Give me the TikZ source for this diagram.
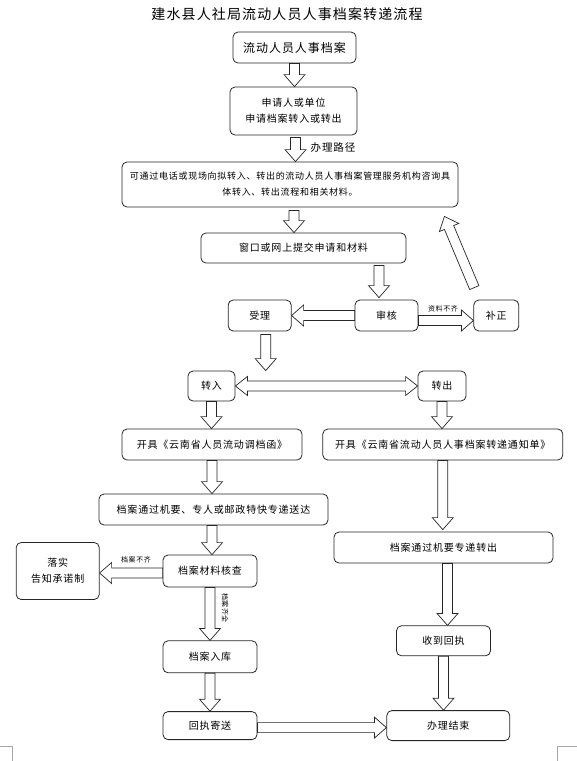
\documentclass[tikz,border=0pt]{standalone}
\usepackage{fontspec}
\newfontfamily\cjk[LetterSpace=8]{Noto Sans CJK SC}
\usetikzlibrary{calc,positioning}
\tikzset{
    pasobox/.style={
        rectangle,                % caja básica
        rounded corners=5pt,      % esquinas redondeadas suaves
        draw=black!85,            % borde casi negro
        fill=white,
        line width=0.8pt,
        align=center,             % texto centrado
        inner sep=2pt,
        font=\cjk\fontsize{10}{16}\selectfont
    },
    rotulo/.style={
        inner sep=1pt,
        font=\cjk\fontsize{7}{8}\selectfont   % etiquetas pequeñas sobre las flechas
    },
    flecha/.style={
        draw=black!85,
        fill=white,               % flecha hueca
        line width=0.7pt,
        to path={let \p1=(\tikztostart), \p2=(\tikztotarget),
            \n1={atan2(\y2-\y1,\x2-\x1)}, \n2={veclen(\x2-\x1,\y2-\y1)} in
            ($(\p1)+(\n1+90:5pt)$)
            -- ($(\p1)+(\n1:\n2-12pt)+(\n1+90:5pt)$)
            -- ($(\p1)+(\n1:\n2-12pt)+(\n1+90:10.5pt)$)
            -- (\p2)
            -- ($(\p1)+(\n1:\n2-12pt)+(\n1-90:10.5pt)$)
            -- ($(\p1)+(\n1:\n2-12pt)+(\n1-90:5pt)$)
            -- ($(\p1)+(\n1-90:5pt)$) -- cycle}
    },
    doble/.style={
        draw=black!85,
        fill=white,               % flecha hueca de dos puntas
        line width=0.7pt,
        to path={let \p1=(\tikztostart), \p2=(\tikztotarget),
            \n1={atan2(\y2-\y1,\x2-\x1)}, \n2={veclen(\x2-\x1,\y2-\y1)} in
            (\p1)
            -- ($(\p1)+(\n1:12pt)+(\n1+90:9.5pt)$)
            -- ($(\p1)+(\n1:12pt)+(\n1+90:5pt)$)
            -- ($(\p1)+(\n1:\n2-12pt)+(\n1+90:5pt)$)
            -- ($(\p1)+(\n1:\n2-12pt)+(\n1+90:9.5pt)$)
            -- (\p2)
            -- ($(\p1)+(\n1:\n2-12pt)+(\n1-90:9.5pt)$)
            -- ($(\p1)+(\n1:\n2-12pt)+(\n1-90:5pt)$)
            -- ($(\p1)+(\n1:12pt)+(\n1-90:5pt)$)
            -- ($(\p1)+(\n1:12pt)+(\n1-90:9.5pt)$) -- cycle}
    },
    marca/.style={draw=black!35, line width=0.5pt}
}

\begin{document}
\begin{tikzpicture}[x=1pt, y=-1pt]
            \useasboundingbox (0,0) rectangle (577,761);

            \node[font=\cjk\fontsize{14}{16}\selectfont] (titulo) at (287,14) {建水县人社局流动人员人事档案转递流程};

            \node[pasobox, minimum width=123pt, minimum height=31pt, font=\cjk\fontsize{12}{14}\selectfont] (dossier) at (294.5,47.5) {流动人员人事档案};
            \node[pasobox, minimum width=127pt, minimum height=48pt] (solicitud) at (293.5,111) {申请人或单位\\申请档案转入或转出};
            \node[pasobox, minimum width=336pt, minimum height=45pt, font=\cjk\fontsize{9}{16}\selectfont] (consulta) at (290,184.5) {可通过电话或现场向拟转入、转出的流动人员人事档案管理服务机构咨询具\\体转入、转出流程和相关材料。};
            \node[pasobox, minimum width=205pt, minimum height=30pt] (entrega) at (303.5,248) {窗口或网上提交申请和材料};
            \node[pasobox, minimum width=63pt, minimum height=31pt] (revision) at (386.5,315.5) {审核};
            \node[pasobox, minimum width=63pt, minimum height=31pt, left=63pt of revision] (tramite) {受理};
            \node[pasobox, minimum width=45pt, minimum height=31pt, right=55pt of revision] (correccion) {补正};
            \node[pasobox, minimum width=47pt, minimum height=30pt] (entrada) at (211.5,386) {转入};
            \node[pasobox, minimum width=48pt, minimum height=30pt] (salida) at (442,386) {转出};
            \node[pasobox, minimum width=180pt, minimum height=31pt] (carta) at (212,444.5) {开具《云南省人员流动调档函》};
            \node[pasobox, minimum width=240pt, minimum height=31pt, right=20pt of carta] (aviso) {开具《云南省流动人员人事档案转递通知单》};
            \node[pasobox, minimum width=229pt, minimum height=31pt] (envio) at (213.5,509.5) {档案通过机要、专人或邮政特快专递送达};
            \node[pasobox, minimum width=219pt, minimum height=31pt] (remision) at (443.5,547.5) {档案通过机要专递转出};
            \node[pasobox, minimum width=94pt, minimum height=32pt] (verifica) at (210,571) {档案材料核查};
            \node[pasobox, minimum width=83pt, minimum height=57pt, left=63pt of verifica] (promesa) {落实\\告知承诺制};
            \node[pasobox, minimum width=94pt, minimum height=32pt, below=53pt of verifica] (archivar) {档案入库};
            \node[pasobox, minimum width=94pt, minimum height=30pt, below=62pt of remision] (recibo) {收到回执};
            \node[pasobox, minimum width=94pt, minimum height=28pt, below=38pt of archivar] (acuse) {回执寄送};
            \node[pasobox, minimum width=123pt, minimum height=30pt, right=129pt of acuse] (fin) {办理结束};

            \draw[flecha] (dossier.south) to (dossier.south |- solicitud.north);
            \draw[flecha] ([xshift=2pt,yshift=-2pt]solicitud.south) to ([xshift=2pt]solicitud.south |- consulta.north);
            \draw[flecha] ([xshift=4pt,yshift=-3pt]consulta.south) to ([xshift=4pt]consulta.south |- entrega.north);
            \draw[flecha] ([xshift=-7.5pt,yshift=-2pt]entrega.south -| revision.north) to ([xshift=-7.5pt,yshift=2pt]revision.north);
            \draw[flecha] (revision.west) to (tramite.east);
            \draw[flecha] ([yshift=-5pt]revision.east) to ([yshift=-5pt]revision.east -| correccion.west);
            \draw[flecha] ([xshift=-22pt,yshift=12pt]correccion.north) to ([xshift=-14pt,yshift=-9pt]consulta.south east);
            \draw[flecha] ([xshift=6pt,yshift=-3pt]tramite.south) to ([xshift=6pt]tramite.south |- entrada.north);
            \draw[doble] (entrada.east) to (entrada.east -| salida.west);
            \draw[flecha] (entrada.south) to (entrada.south |- carta.north);
            \draw[flecha] (salida.south) to (salida.south |- aviso.north);
            \draw[flecha] (carta.south) to (carta.south |- envio.north);
            \draw[flecha] (aviso.south) to ([yshift=2pt]aviso.south |- remision.north);
            \draw[flecha] (envio.south -| carta.south) to (carta.south |- verifica.north);
            \draw[flecha] ([yshift=-2pt]verifica.west) to ([yshift=-2pt]verifica.west -| promesa.east);
            \draw[flecha] (verifica.south) to (verifica.south |- archivar.north);
            \draw[flecha] ([xshift=4pt]remision.south) to ([xshift=4pt]remision.south |- recibo.north);
            \draw[flecha] (archivar.south) to (archivar.south |- acuse.north);
            \draw[flecha] (recibo.south) to (recibo.south |- fin.north);
            \draw[flecha] ([yshift=-2pt]acuse.east) to ([yshift=-2pt]acuse.east -| fin.west);

            \node[rotulo, font=\cjk\fontsize{10.5}{12}\selectfont] (via) at (333,148) {办理路径};
            \node[rotulo] (faltan) at (443,309) {资料不齐};
            \node[rotulo] (incompleto) at (136,560) {档案不齐};
            \node[rotulo, rotate=-90] (completo) at (225,608) {档案齐全};

            \draw[marca] (0,746) -- (12,746) -- (12,761);
            \draw[marca] (577,746) -- (557,746) -- (557,761);
        \end{tikzpicture}
\end{document}
